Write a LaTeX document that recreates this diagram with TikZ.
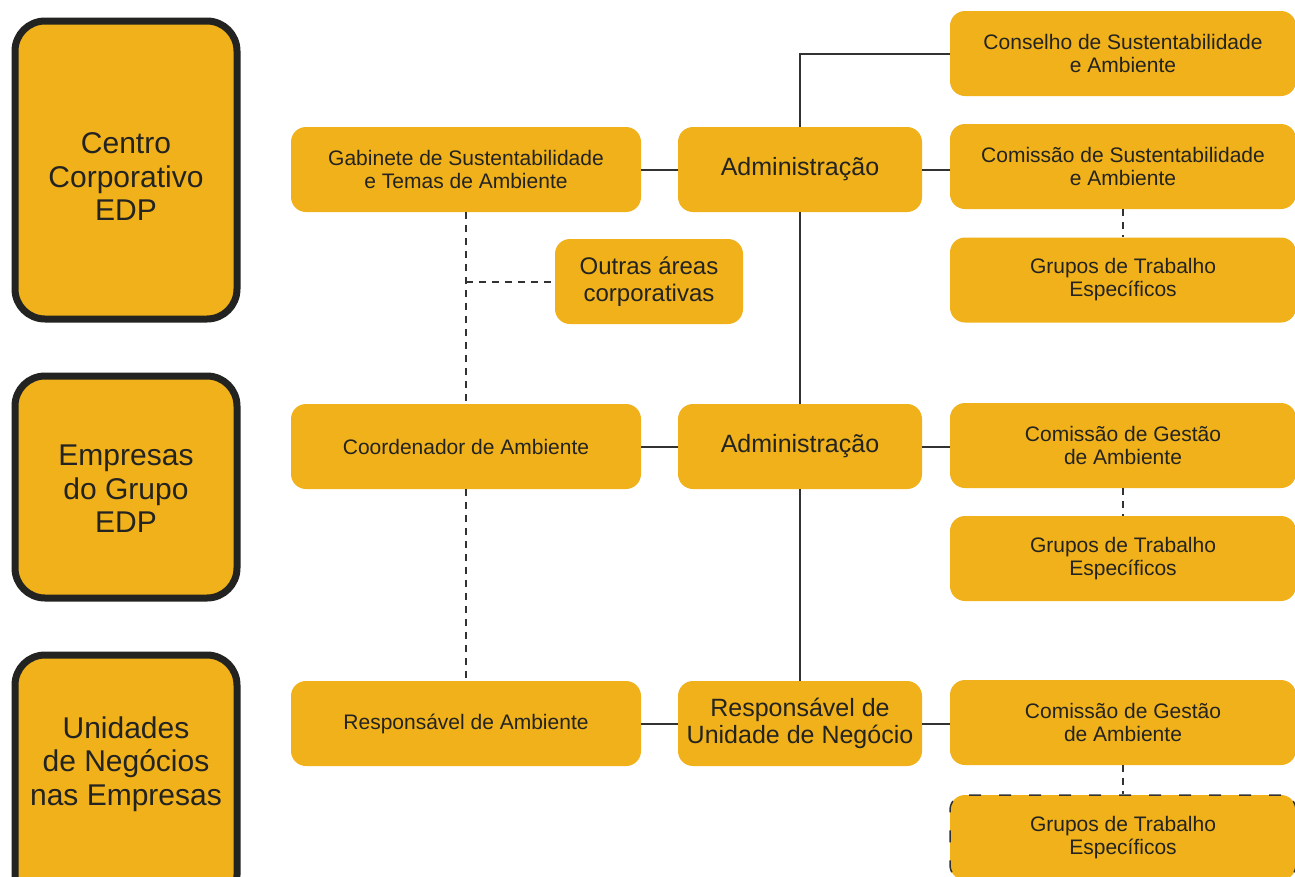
\documentclass[tikz,border=0pt]{standalone}
\usepackage{fontspec}
\setmainfont{Liberation Sans}
\definecolor{edp}{RGB}{240,177,26}
\definecolor{ink}{RGB}{35,35,33}
\definecolor{wire}{RGB}{50,50,50}
\begin{document}
\begin{tikzpicture}[x=1pt,y=-1pt,
  box/.style={fill=edp, rounded corners=15pt, inner sep=0pt, align=center, text=ink},
  smalltxt/.style={font=\fontsize{21}{23}\selectfont},
  bigtxt/.style={font=\fontsize{25}{26.5}\selectfont},
  midbox/.style={box, minimum width=350pt, minimum height=85pt},
  admbox/.style={box, minimum width=244pt, minimum height=85pt},
  rbox/.style={box, minimum width=346pt, minimum height=85pt, smalltxt},
  lbox/.style={fill=edp, draw=ink, line width=7pt, rounded corners=30pt, minimum width=222pt, inner sep=0pt, align=center, text=ink, font=\fontsize{30}{33.5}\selectfont},
  ltext/.style={inner sep=0pt, align=center, text=ink, font=\fontsize{30}{33.5}\selectfont},
  link/.style={draw=wire, line width=2pt},
  dlink/.style={draw=wire, line width=2pt, dash pattern=on 7pt off 6pt}
]
\clip (0,0) rectangle (1295,876);
\fill[white] (0,0) rectangle (1295,876);

% left column
\node[lbox, minimum height=298pt] (cc) at (126,170) {};
\node[ltext] (cctext) at (126,177) {Centro\\Corporativo\\EDP};
\node[lbox, minimum height=222pt] (eg) at (126,487) {};
\node[ltext] (egtext) at (126,489) {Empresas\\do Grupo\\EDP};
\node[lbox, minimum height=250pt] (un) at (126,780) {};
\node[ltext] (untext) at (126,764) {Unidades\\de Negócios\\nas Empresas};

% middle column
\node[midbox, smalltxt] (gab) at (466,169.5) {Gabinete de Sustentabilidade\\e Temas de Ambiente};
\node[box, minimum width=188pt, minimum height=85pt, font=\fontsize{24}{27}\selectfont] (outras) at (649,281.5) {Outras áreas\\corporativas};
\node[midbox, smalltxt] (coord) at (466,446.5) {Coordenador de Ambiente};
\node[midbox, smalltxt] (resp) at (466,723.5) {Responsável de Ambiente};

% admin column
\node[admbox, bigtxt] (adm1) at (800,169.5) {Administração};
\node[admbox, bigtxt] (adm2) at (800,446.5) {Administração};
\node[admbox, bigtxt] (run) at (800,723.5) {Responsável de\\Unidade de Negócio};

% right column
\node[rbox] (cons) at (1123,53.5) {Conselho de Sustentabilidade\\e Ambiente};
\node[rbox] (cse) at (1123,166.5) {Comissão de Sustentabilidade\\e Ambiente};
\node[rbox] (gt1) at (1123,280) {Grupos de Trabalho\\Específicos};
\node[rbox] (cga1) at (1123,445.5) {Comissão de Gestão\\de Ambiente};
\node[rbox] (gt2) at (1123,558.5) {Grupos de Trabalho\\Específicos};
\node[rbox] (cga2) at (1123,722.5) {Comissão de Gestão\\de Ambiente};
\node[rbox, draw=wire, line width=1.5pt, dash pattern=on 12pt off 18pt] (gt3) at (1123,837.5) {Grupos de Trabalho\\Específicos};

% solid connectors
\draw[link] (gab.east) -- (adm1.west);
\draw[link] (coord.east) -- (adm2.west);
\draw[link] (resp.east) -- (run.west);
\draw[link] (adm1.east) -- (adm1.east -| cse.west);
\draw[link] (adm2.east) -- (adm2.east -| cga1.west);
\draw[link] (run.east) -- (run.east -| cga2.west);
\draw[link] (adm1.north) |- (cons.west);
\draw[link] (adm1.south) -- (adm2.north);
\draw[link] (adm2.south) -- (run.north);

% dashed connectors
\draw[dlink] (gab.south) -- (coord.north);
\draw[dlink] (coord.south) -- (resp.north);
\coordinate (oj) at (gab.south |- outras.west);
\draw[dlink] (oj) -- (outras.west);
\draw[dlink] (cse.south) -- (gt1.north);
\draw[dlink] (cga1.south) -- (gt2.north);
\draw[dlink] (cga2.south) -- (gt3.north);
\end{tikzpicture}
\end{document}
